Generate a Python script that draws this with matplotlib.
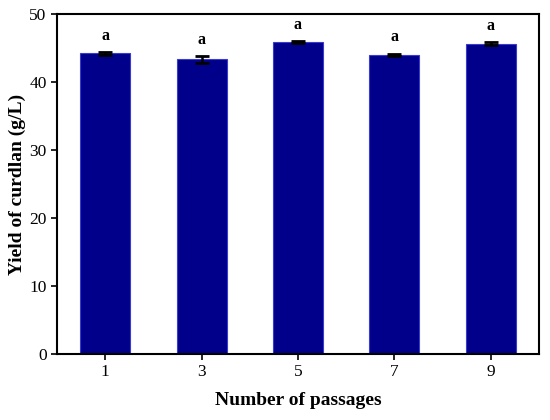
import matplotlib
matplotlib.use("Agg")
import matplotlib.pyplot as plt
import numpy as np

passages = ["1", "3", "5", "7", "9"]
yield_vals = [44.2, 43.3, 45.9, 44.0, 45.6]
yield_err = [0.2, 0.5, 0.15, 0.15, 0.2]
letters = ["a", "a", "a", "a", "a"]

plt.rcParams['font.family'] = ['Liberation Serif', 'DejaVu Serif']

fig = plt.figure(figsize=(5.5, 4.2), dpi=100)
ax = fig.add_axes([0.1036, 0.157, 0.8764, 0.81])

x = np.arange(len(passages))
ax.bar(x, yield_vals, width=0.52, color='#00008B', edgecolor='#3a3ad0', linewidth=0.8,
       yerr=yield_err, capsize=5, error_kw=dict(ecolor='black', elinewidth=1.8, capthick=2))

for xi, v, e, t in zip(x, yield_vals, yield_err, letters):
    ax.text(xi, v + e + 1.2, t, ha='center', va='bottom', fontsize=11.5, fontweight='bold')

ax.set_xlim(-0.5, 4.5)
ax.set_ylim(0, 50)
ax.set_xticks(x)
ax.set_xticklabels(passages)
ax.set_yticks([0, 10, 20, 30, 40, 50])
ax.tick_params(axis='both', direction='out', length=4, width=1.2, labelsize=12.5,
               top=False, right=False)
for s in ax.spines.values():
    s.set_linewidth(1.5)

ax.set_xlabel('Number of passages', fontsize=14, fontweight='bold', labelpad=8)
ax.set_ylabel('Yield of curdlan (g/L)', fontsize=14, fontweight='bold', labelpad=2)

fig.savefig('out.png', dpi=100)
